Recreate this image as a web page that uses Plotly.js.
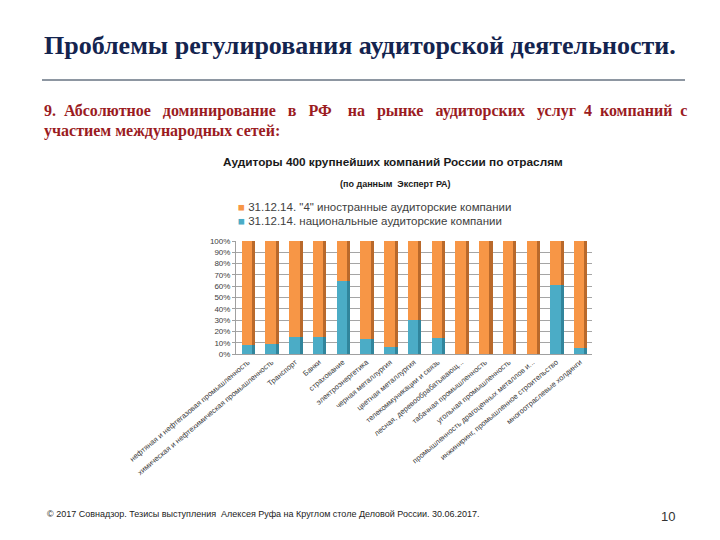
<!DOCTYPE html>
<html>
<head>
<meta charset="utf-8">
<script src="https://cdn.plot.ly/plotly-3.0.1.min.js"></script>
<style>html,body{margin:0;padding:0;background:#fff;}#chart{width:720px;height:540px;}</style>
</head>
<body>
<div id="chart"></div>
<script>
const categories = [
  "нефтяная и нефтегазовая промышленность",
  "химическая и нефтехимическая промышленность",
  "Транспорт",
  "Банки",
  "страхование",
  "электроэнергетика",
  "черная металлургия",
  "цветная металлургия",
  "телекоммуникации и связь",
  "лесная, деревообрабатывающ...",
  "табачная промышленность",
  "угольная промышленность",
  "промышленность драгоценных металлов и...",
  "инжиниринг, промышленное строительство",
  "многоотраслевые холдинги"
];
const nationalShare = [8, 9, 15, 15, 65, 13, 6, 30, 14, 0, 0, 0, 0, 61, 5];
const foreignShare = [92, 91, 85, 85, 35, 87, 94, 70, 86, 100, 100, 100, 100, 39, 95];
const seriesNames = [
  "31.12.14. \"4\" иностранные аудиторские компании",
  "31.12.14. национальные аудиторские компании"
];
const yTickVals = [0,10,20,30,40,50,60,70,80,90,100];

const W = 720, H = 540;
const px = x => x / W;
const py = y => 1 - y / H;

const blue = "#4BACC6", orange = "#F79646";
const blueSide = "#31859C", orangeSide = "#B9692B";
const fw = 0.44, fo = -0.26, sw = 0.13;

const traces = [
  {type:"bar", x:categories, y:nationalShare, name:seriesNames[1], marker:{color:blue}, width:fw, offset:fo, xaxis:"x", yaxis:"y", hoverinfo:"skip", showlegend:false},
  {type:"bar", x:categories, y:foreignShare, name:seriesNames[0], marker:{color:orange}, width:fw, offset:fo, xaxis:"x", yaxis:"y", hoverinfo:"skip", showlegend:false},
  {type:"bar", x:categories, y:nationalShare, showlegend:false, marker:{color:blueSide}, width:sw, offset:fo+fw, xaxis:"x2", yaxis:"y2", hoverinfo:"skip"},
  {type:"bar", x:categories, y:foreignShare, showlegend:false, marker:{color:orangeSide}, width:sw, offset:fo+fw, xaxis:"x2", yaxis:"y2", hoverinfo:"skip"}
];

const xdom = [px(236), px(592)];
const ydom = [py(354), py(241)];
const s2 = "&nbsp;&nbsp;", s3 = "&nbsp;&nbsp;&nbsp;";

const legendFont = {family: "Liberation Sans, Arial, sans-serif", size: 11.5, color: "#404040"};
const line1 = ["9.", s2, "Абсолютное", s3, "доминирование", s3, "в", s3, "РФ", s3 + "&nbsp;", "на", s3, "рынке", s3, "аудиторских", s3, "услуг", s2, "4", s2, "компаний", s2, "с"].join("");

const layout = {
  width: W, height: H,
  margin: {l:0, r:0, t:0, b:0},
  paper_bgcolor: "#fff", plot_bgcolor: "#fff",
  barmode: "stack",
  showlegend: false,
  xaxis: {
    domain: xdom, type: "category", range: [-0.5, 14.5],
    tickangle: -40,
    tickfont: {family: "Liberation Sans, Arial, sans-serif", size: 7.5, color: "#404040"},
    showgrid: false, showline: true, linecolor: "#a0a0a0", linewidth: 1,
    ticks: "", fixedrange: true
  },
  yaxis: {
    domain: ydom, range: [0, 100],
    tickvals: yTickVals, ticktext: yTickVals.map(v => v + "%"),
    tickfont: {family: "Liberation Sans, Arial, sans-serif", size: 8, color: "#404040"},
    showgrid: true, gridcolor: "#8f8f8f", gridwidth: 0.8,
    showline: true, linecolor: "#a0a0a0", ticks: "outside", ticklen: 3, tickcolor: "#a0a0a0",
    zeroline: false, fixedrange: true
  },
  xaxis2: {overlaying: "x", type: "category", range: [-0.5, 14.5], visible: false, fixedrange: true},
  yaxis2: {overlaying: "y", range: [0, 100], visible: false, fixedrange: true},
  shapes: [
    {type: "line", xref: "paper", yref: "paper", x0: px(42), x1: px(685), y0: py(80), y1: py(80), line: {color: "#1c2e44", width: 1}}
  ],
  annotations: [
    {text: "<b>Проблемы регулирования аудиторской деятельности.</b>", xref: "paper", yref: "paper", x: px(42), y: py(45), xanchor: "left", yanchor: "middle", showarrow: false,
     font: {family: "Liberation Serif, Times New Roman, serif", size: 26, color: "#14244f"}},
    {text: "<b>" + line1 + "</b>",
     xref: "paper", yref: "paper", x: px(42), y: py(111), xanchor: "left", yanchor: "middle", showarrow: false,
     font: {family: "Liberation Serif, Times New Roman, serif", size: 16, color: "#9b1c1f"}},
    {text: "<b>участием международных сетей:</b>", xref: "paper", yref: "paper", x: px(42), y: py(131), xanchor: "left", yanchor: "middle", showarrow: false,
     font: {family: "Liberation Serif, Times New Roman, serif", size: 16, color: "#9b1c1f"}},
    {text: "<b>Аудиторы 400 крупнейших компаний России по отраслям</b>", xref: "paper", yref: "paper", x: px(393), y: py(162), xanchor: "center", yanchor: "middle", showarrow: false,
     font: {family: "Liberation Sans Narrow, Arial Narrow, Liberation Sans, sans-serif", size: 11.8, color: "#1a1a1a"}},
    {text: "<b>(по данным  Эксперт РА)</b>", xref: "paper", yref: "paper", x: px(395), y: py(184), xanchor: "center", yanchor: "middle", showarrow: false,
     font: {family: "Liberation Sans Narrow, Arial Narrow, Liberation Sans, sans-serif", size: 9, color: "#1a1a1a"}},
    {text: "<span style='color:" + orange + "'>■</span> " + seriesNames[0], xref: "paper", yref: "paper", x: px(236), y: py(207), xanchor: "left", yanchor: "middle", showarrow: false,
     font: legendFont},
    {text: "<span style='color:" + blue + "'>■</span> " + seriesNames[1], xref: "paper", yref: "paper", x: px(236), y: py(221), xanchor: "left", yanchor: "middle", showarrow: false,
     font: legendFont},
    {text: "© 2017 Совнадзор. Тезисы выступления  Алексея Руфа на Круглом столе Деловой России. 30.06.2017.", xref: "paper", yref: "paper", x: px(45), y: py(514), xanchor: "left", yanchor: "middle", showarrow: false,
     font: {family: "Liberation Sans, Arial, sans-serif", size: 9, color: "#222"}},
    {text: "10", xref: "paper", yref: "paper", x: px(677), y: py(516), xanchor: "right", yanchor: "middle", showarrow: false,
     font: {family: "Liberation Sans, Arial, sans-serif", size: 13, color: "#333"}}
  ]
};

Plotly.newPlot("chart", traces, layout, {displayModeBar: false, staticPlot: true});
</script>
</body>
</html>
